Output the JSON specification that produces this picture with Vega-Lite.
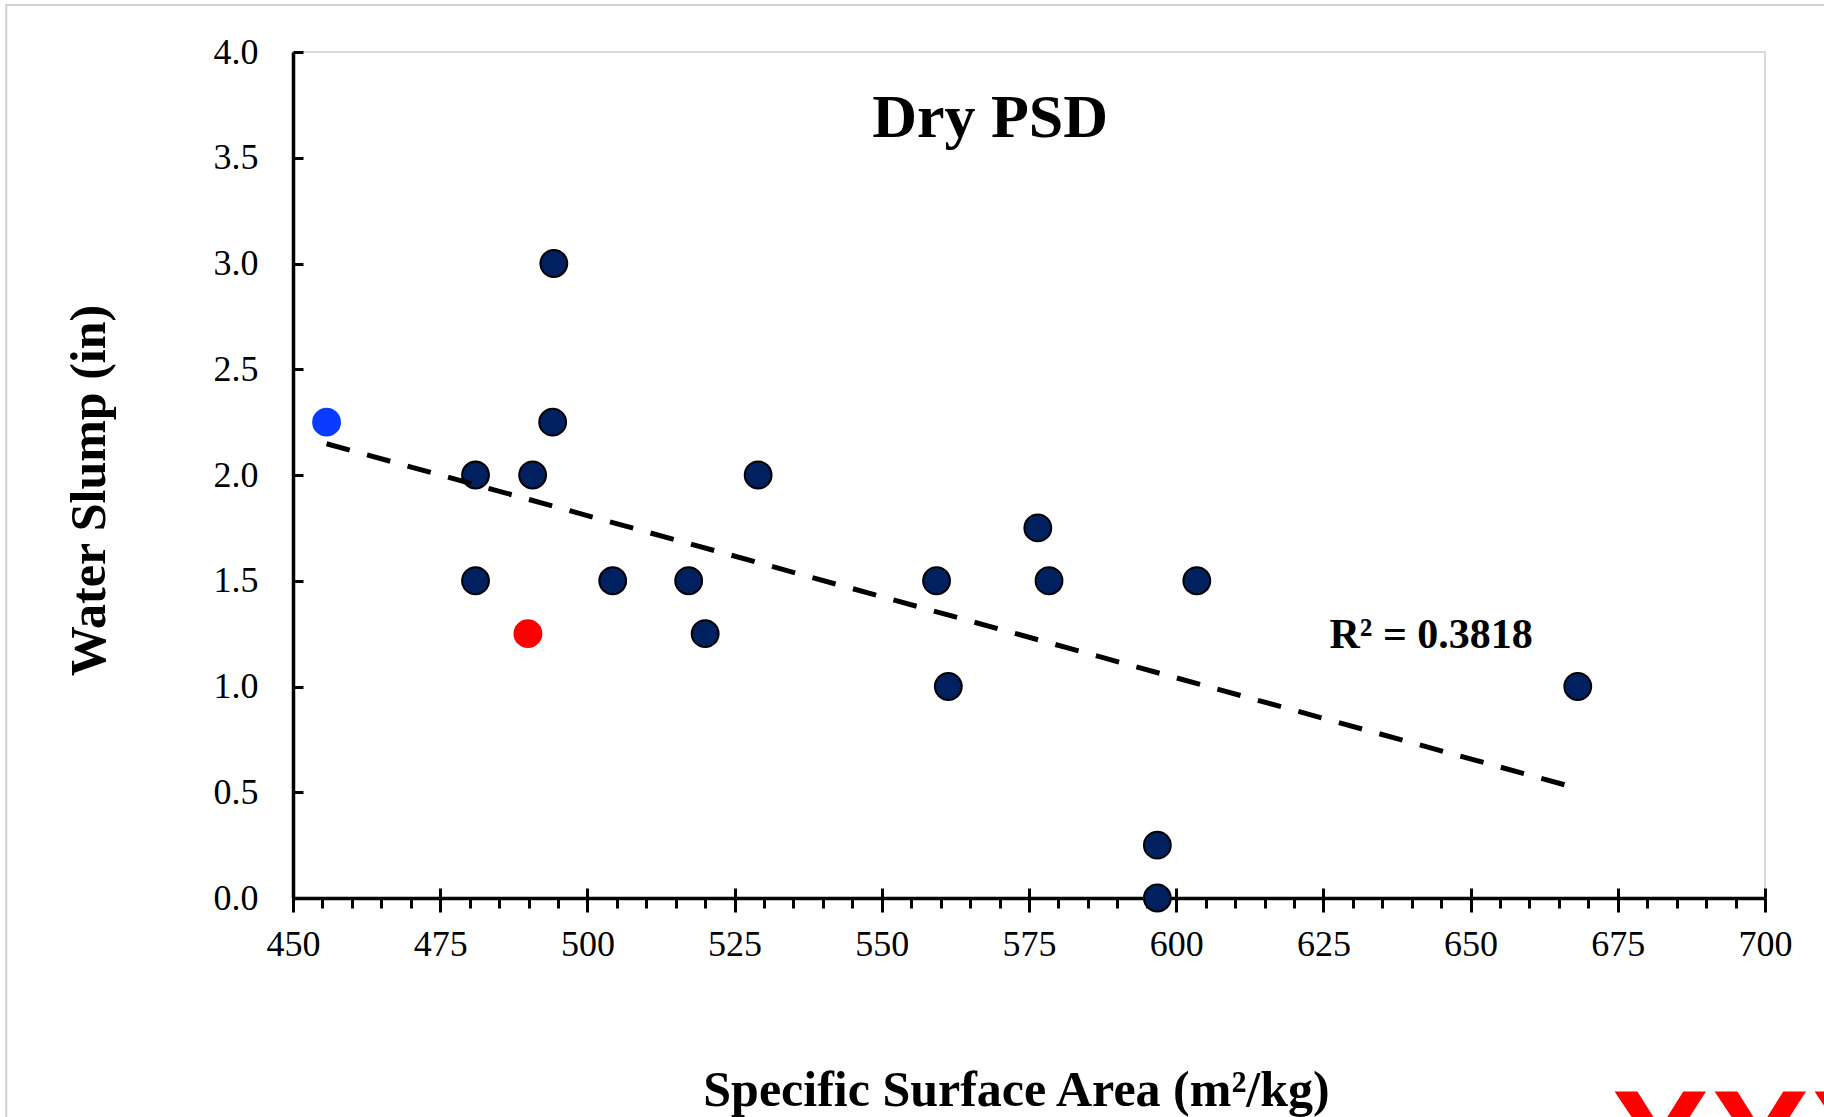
{
  "$schema": "https://vega.github.io/schema/vega-lite/v6.json",
  "width": 1472,
  "height": 846,
  "autosize": "none",
  "padding": {"left": 293, "top": 52, "right": 59, "bottom": 219},
  "background": "white",
  "config": {
    "view": {"stroke": "#d9d9d9", "strokeWidth": 2},
    "font": "Liberation Serif"
  },
  "datasets": {
    "pts": [
      {"ssa": 455.7, "slump": 2.25, "series": "blue"},
      {"ssa": 481.0, "slump": 2.0, "series": "main"},
      {"ssa": 481.0, "slump": 1.5, "series": "main"},
      {"ssa": 489.9, "slump": 1.25, "series": "red"},
      {"ssa": 490.7, "slump": 2.0, "series": "main"},
      {"ssa": 494.3, "slump": 3.0, "series": "main"},
      {"ssa": 494.1, "slump": 2.25, "series": "main"},
      {"ssa": 504.3, "slump": 1.5, "series": "main"},
      {"ssa": 517.2, "slump": 1.5, "series": "main"},
      {"ssa": 520.0, "slump": 1.25, "series": "main"},
      {"ssa": 529.0, "slump": 2.0, "series": "main"},
      {"ssa": 559.3, "slump": 1.5, "series": "main"},
      {"ssa": 561.3, "slump": 1.0, "series": "main"},
      {"ssa": 576.5, "slump": 1.75, "series": "main"},
      {"ssa": 578.4, "slump": 1.5, "series": "main"},
      {"ssa": 596.8, "slump": 0.25, "series": "main"},
      {"ssa": 596.8, "slump": 0.0, "series": "main"},
      {"ssa": 603.5, "slump": 1.5, "series": "main"},
      {"ssa": 668.2, "slump": 1.0, "series": "main"}
    ],
    "notes": [
      {"label": "R² = 0.3818", "ssa": 643.3, "slump": 1.18}
    ],
    "heading": [
      {"label": "Dry PSD", "ssa": 568.4, "slump": 3.598}
    ],
    "mark": [
      {"label": "XXX", "ssa": 673.7, "slump": -1.404}
    ],
    "frame": [
      {"x0": 401.3, "x1": 730, "y0": 4.222, "y1": -1.6}
    ]
  },
  "resolve": {"axis": {"x": "independent", "y": "independent"}},
  "layer": [
    {
      "data": {"name": "frame"},
      "mark": {"type": "rect", "fill": null, "stroke": "#cfcfcf", "strokeWidth": 2, "clip": false},
      "encoding": {
        "x": {"field": "x0", "type": "quantitative", "axis": null},
        "x2": {"field": "x1"},
        "y": {"field": "y0", "type": "quantitative", "axis": null},
        "y2": {"field": "y1"}
      }
    },
    {
      "data": {"name": "pts"},
      "mark": {"type": "point", "filled": true, "opacity": 1, "shape": "circle", "size": 720, "strokeWidth": 2},
      "encoding": {
        "x": {
          "field": "ssa", "type": "quantitative",
          "scale": {"domain": [450, 700], "nice": false, "zero": false},
          "axis": {
            "orient": "bottom",
            "values": [450, 475, 500, 525, 550, 575, 600, 625, 650, 675, 700],
            "format": "d",
            "grid": false,
            "domainColor": "black", "domainWidth": 3.5,
            "tickColor": "black", "tickWidth": 3, "tickSize": 14,
            "labelFont": "Liberation Serif", "labelFontSize": 36, "labelColor": "black",
            "labelBaseline": "alphabetic", "labelPadding": 43, "labelFlush": false, "labelOverlap": false,
            "title": "Specific Surface Area (m²/kg)",
            "titleFont": "Liberation Serif", "titleFontSize": 50, "titleFontWeight": "bold", "titleColor": "black",
            "titleX": 723, "titleY": 207, "titleBaseline": "alphabetic", "titleAlign": "center"
          }
        },
        "y": {
          "field": "slump", "type": "quantitative",
          "scale": {"domain": [0, 4], "nice": false},
          "axis": {
            "orient": "left",
            "values": [0, 0.5, 1, 1.5, 2, 2.5, 3, 3.5, 4],
            "format": ".1f",
            "grid": false,
            "domainColor": "black", "domainWidth": 3.5,
            "ticks": false,
            "labelFont": "Liberation Serif", "labelFontSize": 36, "labelColor": "black",
            "labelPadding": 35, "labelBaseline": "middle", "labelFlush": false, "labelOverlap": false,
            "title": "Water Slump (in)",
            "titleFont": "Liberation Serif", "titleFontSize": 50, "titleFontWeight": "bold", "titleColor": "black",
            "titleX": -189, "titleY": 438, "titleAngle": -90, "titleBaseline": "alphabetic", "titleAlign": "center"
          }
        },
        "fill": {
          "field": "series", "type": "nominal",
          "scale": {"domain": ["main", "blue", "red"], "range": ["#002060", "#0a3cff", "#ff0000"]},
          "legend": null
        },
        "stroke": {
          "field": "series", "type": "nominal",
          "scale": {"domain": ["main", "blue", "red"], "range": ["#000000", "#0a3cff", "#ff0000"]},
          "legend": null
        }
      }
    },
    {
      "data": {"name": "pts"},
      "transform": [{"regression": "slump", "on": "ssa"}],
      "mark": {"type": "line", "color": "black", "strokeWidth": 5, "strokeDash": [24, 18], "strokeCap": "butt"},
      "encoding": {
        "x": {
          "field": "ssa", "type": "quantitative",
          "axis": {
            "orient": "bottom",
            "values": [450, 475, 500, 525, 550, 575, 600, 625, 650, 675, 700],
            "grid": false, "domain": false, "labels": false, "title": null,
            "tickColor": "black", "tickWidth": 3, "tickSize": -10
          }
        },
        "y": {
          "field": "slump", "type": "quantitative",
          "axis": {
            "orient": "left",
            "values": [0, 0.5, 1, 1.5, 2, 2.5, 3, 3.5, 4],
            "grid": false, "domain": false, "labels": false, "title": null,
            "tickColor": "black", "tickWidth": 3, "tickSize": -10
          }
        }
      }
    },
    {
      "data": {"name": "notes"},
      "mark": {"type": "text", "font": "Liberation Serif", "fontSize": 42, "fontWeight": "bold", "color": "black", "align": "center", "baseline": "alphabetic"},
      "encoding": {
        "x": {
          "field": "ssa", "type": "quantitative",
          "axis": {
            "orient": "bottom",
            "values": [455, 460, 465, 470, 480, 485, 490, 495, 505, 510, 515, 520, 530, 535, 540, 545, 555, 560, 565, 570, 580, 585, 590, 595, 605, 610, 615, 620, 630, 635, 640, 645, 655, 660, 665, 670, 680, 685, 690, 695],
            "grid": false, "domain": false, "labels": false, "title": null,
            "tickColor": "black", "tickWidth": 3, "tickSize": 10
          }
        },
        "y": {"field": "slump", "type": "quantitative", "axis": null},
        "text": {"field": "label"}
      }
    },
    {
      "data": {"name": "heading"},
      "mark": {"type": "text", "font": "Liberation Serif", "fontSize": 62, "fontWeight": "bold", "color": "black", "align": "center", "baseline": "alphabetic"},
      "encoding": {
        "x": {"field": "ssa", "type": "quantitative", "axis": null},
        "y": {"field": "slump", "type": "quantitative", "axis": null},
        "text": {"field": "label"}
      }
    },
    {
      "data": {"name": "mark"},
      "mark": {"type": "text", "font": "Liberation Sans", "fontSize": 150, "fontWeight": "bold", "color": "#ff0000", "align": "left", "baseline": "alphabetic", "clip": false},
      "encoding": {
        "x": {"field": "ssa", "type": "quantitative", "axis": null},
        "y": {"field": "slump", "type": "quantitative", "axis": null},
        "text": {"field": "label"}
      }
    }
  ]
}
